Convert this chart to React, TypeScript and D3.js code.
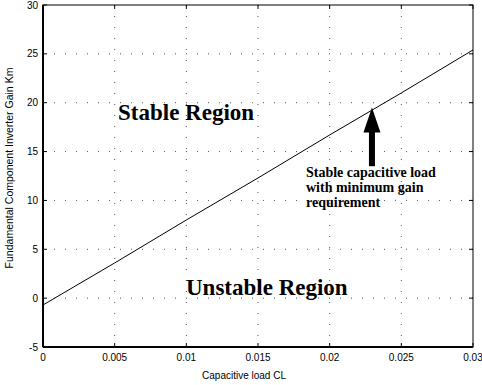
import React from "react";
import * as d3 from "d3";

const xValues = [0, 0.005, 0.01, 0.015, 0.02, 0.025, 0.03];
const gainValues = [-0.7, 3.6, 8.0, 12.3, 16.7, 21.0, 25.4];
const xTicks = [0, 0.005, 0.01, 0.015, 0.02, 0.025, 0.03];
const xTickLabels = ["0", "0.005", "0.01", "0.015", "0.02", "0.025", "0.03"];
const yTicks = [-5, 0, 5, 10, 15, 20, 25, 30];
const regionLabels = ["Stable Region", "Unstable Region"];
const annotationLines = ["Stable capacitive load", "with minimum gain", "requirement"];
const arrowX = 0.02295;
const arrowFrom = 13.5;
const arrowTo = 19.5;

export default function App() {
  const W = 482, H = 385;
  const m = { left: 43, right: 9, top: 5, bottom: 38 };
  const x = d3.scaleLinear().domain([0, 0.03]).range([m.left, W - m.right]);
  const y = d3.scaleLinear().domain([-5, 30]).range([H - m.bottom, m.top]);
  const line = d3.line<number>().x((_, i) => x(xValues[i])).y((d) => y(d));
  const sans = "'Liberation Sans', Arial, sans-serif";
  const serif = "'Liberation Serif', 'Times New Roman', serif";
  const ax = x(arrowX);
  const headLen = 25;
  return (
    <svg width={W} height={H} style={{ position: "absolute", left: 0, top: 0, background: "#fff" }}>
      <rect x={0} y={0} width={W} height={H} fill="#fff" />
      {/* grid */}
      <g stroke="#555" strokeWidth={1} strokeDasharray="1,10">
        {xTicks.slice(1, -1).map((t) => (
          <line key={"gx" + t} x1={x(t)} x2={x(t)} y1={y(30)} y2={y(-5)} />
        ))}
        {yTicks.slice(1, -1).map((t) => (
          <line key={"gy" + t} x1={x(0)} x2={x(0.03)} y1={y(t)} y2={y(t)} />
        ))}
      </g>
      {/* box */}
      <rect x={x(0)} y={y(30)} width={x(0.03) - x(0)} height={y(-5) - y(30)} fill="none" stroke="#000" strokeWidth={1} />
      <line x1={x(0)} x2={x(0)} y1={y(30)} y2={y(-5)} stroke="#000" strokeWidth={2} />
      <line x1={x(0)} x2={x(0.03)} y1={y(-5)} y2={y(-5)} stroke="#000" strokeWidth={2} />
      {/* ticks */}
      <g stroke="#000" strokeWidth={1}>
        {xTicks.map((t) => (
          <g key={"tx" + t}>
            <line x1={x(t)} x2={x(t)} y1={y(-5)} y2={y(-5) - 4} />
            <line x1={x(t)} x2={x(t)} y1={y(30)} y2={y(30) + 4} />
          </g>
        ))}
        {yTicks.map((t) => (
          <g key={"ty" + t}>
            <line x1={x(0)} x2={x(0) + 4} y1={y(t)} y2={y(t)} />
            <line x1={x(0.03)} x2={x(0.03) - 4} y1={y(t)} y2={y(t)} />
          </g>
        ))}
      </g>
      <g fontFamily={sans} fontSize={10} fill="#000">
        {xTicks.map((t, i) => (
          <text key={"lx" + t} x={x(t)} y={y(-5) + 14} textAnchor="middle">{xTickLabels[i]}</text>
        ))}
        {yTicks.map((t) => (
          <text key={"ly" + t} x={x(0) - 5} y={y(t) + 3.5} textAnchor="end">{t}</text>
        ))}
        <text x={244} y={H - 6} textAnchor="middle" fontSize={10}>Capacitive load CL</text>
        <text transform={`translate(13,168) rotate(-90)`} textAnchor="middle" fontSize={10.5}>
          Fundamental Component Inverter Gain Km
        </text>
      </g>
      {/* data line */}
      <path d={line(gainValues) || ""} fill="none" stroke="#000" strokeWidth={1} />
      {/* region labels */}
      <g fontFamily={serif} fontWeight="bold" fill="#000" fontSize={23}>
        <text x={118} y={120}>{regionLabels[0]}</text>
        <text x={186} y={295}>{regionLabels[1]}</text>
      </g>
      {/* arrow */}
      <line x1={ax} x2={ax} y1={y(arrowFrom)} y2={y(arrowTo) + headLen - 2} stroke="#000" strokeWidth={6} />
      <path d={`M${ax},${y(arrowTo)} L${ax - 8.5},${y(arrowTo) + headLen} L${ax + 8.5},${y(arrowTo) + headLen} Z`} fill="#000" />
      <g fontFamily={serif} fontWeight="bold" fontSize={14} fill="#000">
        {annotationLines.map((s, i) => (
          <text key={s} x={306} y={177 + i * 15}>{s}</text>
        ))}
      </g>
    </svg>
  );
}
